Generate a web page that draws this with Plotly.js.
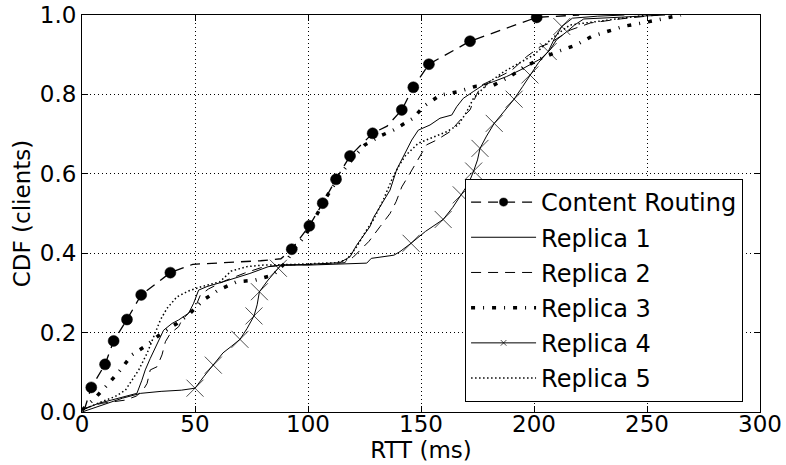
<!DOCTYPE html>
<html>
<head>
<meta charset="utf-8">
<script src="https://cdn.plot.ly/plotly-3.0.1.min.js"></script>
<style>html,body{margin:0;padding:0;background:#fff;}#chart{width:786px;height:465px;}</style>
</head>
<body>
<div id="chart"></div>
<script>
// Content Routing (dashed line with circle markers)
const crX = [1, 4.1, 10.2, 14.0, 19.9, 26.2, 39.1, 49, 79, 88, 92.8, 100.6, 106.5, 112.4, 118.6, 128.6, 135, 141.5, 146.6, 153.5, 171.7, 201.2, 220];
const crY = [0.005, 0.062, 0.12, 0.179, 0.233, 0.295, 0.351, 0.372, 0.381, 0.386, 0.41, 0.469, 0.526, 0.586, 0.645, 0.702, 0.72, 0.761, 0.818, 0.876, 0.934, 0.994, 1.0];
// indices of crX/crY that carry a circle marker
const crMarkerIdx = [1, 2, 3, 4, 5, 6, 10, 11, 12, 13, 14, 15, 17, 18, 19, 20, 21];

const r1X = [0, 4, 7.4, 13, 19.2, 24.3, 26.5, 28, 30.2, 31.7, 33.9, 35.4, 36.1, 39.8, 42.8, 47.2, 49.4, 51.6, 55.3, 62.5, 74.3, 82.4, 87.6, 100, 114, 118.6, 121.5, 124, 127.4, 129, 131.9, 136.3, 139.2, 143.7, 145.9, 148.8, 154, 158.4, 163.6, 165.8, 168.7, 173.1, 177.6, 182, 187.9, 193.8, 198.2, 203.4, 207.1, 209.9, 214.5, 218, 222, 240, 258];
const r1Y = [0.005, 0.015, 0.022, 0.03, 0.04, 0.047, 0.08, 0.106, 0.135, 0.152, 0.177, 0.194, 0.206, 0.223, 0.232, 0.249, 0.274, 0.307, 0.316, 0.328, 0.349, 0.366, 0.37, 0.372, 0.376, 0.391, 0.42, 0.44, 0.467, 0.49, 0.517, 0.559, 0.61, 0.66, 0.685, 0.71, 0.723, 0.74, 0.748, 0.769, 0.79, 0.807, 0.824, 0.832, 0.845, 0.861, 0.874, 0.891, 0.912, 0.937, 0.958, 0.975, 0.99, 0.995, 1.0];

const r2X = [0, 3, 8.8, 14.7, 19.2, 24, 27, 28.8, 30.2, 33.2, 35.4, 36.9, 39.1, 42.8, 44.2, 47.2, 50.9, 52.4, 56, 63, 72, 80, 90, 105, 116, 120, 123, 127, 131.9, 136.3, 139, 141.5, 145, 149.6, 152.5, 156.9, 162.8, 168.7, 171.7, 174.6, 177, 183, 190, 196.7, 202.7, 207, 216, 225, 238, 255];
const r2Y = [0.005, 0.013, 0.022, 0.026, 0.03, 0.04, 0.055, 0.072, 0.106, 0.114, 0.144, 0.177, 0.198, 0.215, 0.232, 0.249, 0.274, 0.295, 0.31, 0.33, 0.35, 0.365, 0.37, 0.372, 0.376, 0.39, 0.408, 0.43, 0.467, 0.5, 0.53, 0.567, 0.6, 0.643, 0.673, 0.685, 0.706, 0.744, 0.761, 0.8, 0.824, 0.84, 0.86, 0.895, 0.92, 0.929, 0.962, 0.98, 0.99, 1.0];

const r3X = [0, 3, 5.9, 11.8, 17, 22.1, 28.8, 35.1, 42, 47.9, 53.7, 60.3, 68.4, 76.5, 84.6, 89.8, 94, 99.4, 104, 108, 114.9, 120, 125.2, 131.9, 137.7, 146.6, 151, 158.4, 166.5, 173.9, 182, 189.4, 196, 203.4, 210, 218.5, 225.5, 232, 240, 249, 256, 265];
const r3Y = [0.005, 0.02, 0.036, 0.072, 0.106, 0.144, 0.169, 0.198, 0.223, 0.249, 0.282, 0.307, 0.328, 0.332, 0.345, 0.375, 0.41, 0.45, 0.5, 0.54, 0.603, 0.64, 0.673, 0.695, 0.71, 0.74, 0.769, 0.798, 0.807, 0.82, 0.823, 0.845, 0.87, 0.891, 0.907, 0.924, 0.946, 0.958, 0.972, 0.981, 0.99, 1.0];

const r4X = [0, 5, 10, 18, 26, 35, 44, 50, 54, 58.1, 62.4, 66, 69.9, 73, 76.1, 77.5, 78.5, 82, 86.9, 88, 100, 115, 126, 128, 138, 140.7, 145.6, 152, 159.8, 164, 167.8, 171, 173.3, 175, 176.1, 179, 182.4, 187, 191.2, 195, 198.2, 202, 206.3, 209, 212.3, 217, 228, 240];
const r4Y = [0, 0.01, 0.02, 0.035, 0.047, 0.052, 0.055, 0.06, 0.09, 0.118, 0.149, 0.165, 0.183, 0.21, 0.242, 0.27, 0.303, 0.33, 0.362, 0.37, 0.37, 0.372, 0.375, 0.387, 0.395, 0.404, 0.425, 0.455, 0.485, 0.515, 0.547, 0.575, 0.607, 0.635, 0.664, 0.695, 0.727, 0.76, 0.788, 0.82, 0.849, 0.88, 0.908, 0.94, 0.971, 0.992, 0.997, 1.0];
// indices of r4X/r4Y that carry an X marker
const r4MarkerIdx = [7, 9, 12, 14, 16, 18, 26, 28, 30, 32, 34, 36, 38, 40, 42, 44];

const r5X = [0, 4, 8.8, 14.7, 19.2, 22.1, 25.1, 28.8, 31.7, 34.7, 37.6, 42, 47.2, 53.1, 61, 66, 72.9, 80.2, 95, 112, 117, 121.5, 125, 128.9, 133.3, 137, 140, 143, 148.8, 154, 161.4, 166.5, 170.2, 173.2, 180, 186.4, 193, 200, 205.6, 211, 216, 226, 238, 250];
const r5Y = [0.005, 0.015, 0.026, 0.039, 0.055, 0.08, 0.106, 0.148, 0.19, 0.232, 0.261, 0.29, 0.305, 0.316, 0.328, 0.355, 0.366, 0.37, 0.372, 0.376, 0.383, 0.416, 0.45, 0.484, 0.534, 0.584, 0.618, 0.645, 0.677, 0.689, 0.706, 0.723, 0.756, 0.79, 0.83, 0.856, 0.878, 0.9, 0.929, 0.955, 0.975, 0.983, 0.991, 1.0];

const seriesNames = ['Content Routing', 'Replica 1', 'Replica 2', 'Replica 3', 'Replica 4', 'Replica 5'];
const xTicks = [0, 50, 100, 150, 200, 250, 300];
const yTicks = [0.0, 0.2, 0.4, 0.6, 0.8, 1.0];

function sizes(n, idx, s) { const a = new Array(n).fill(0); idx.forEach(i => a[i] = s); return a; }

const FONT = 'DejaVu Sans, Bitstream Vera Sans, sans-serif';
const FS = 23;
const traces = [
  {x: crX, y: crY, name: seriesNames[0], legendgroup: 'g0', mode: 'lines+markers',
   line: {color: '#000', width: 1.3, dash: '10px,7px'},
   marker: {symbol: 'circle', color: '#000', opacity: 1, size: sizes(crX.length, crMarkerIdx, 11), line: {color: '#000', width: 0.5}}},
  {x: r1X, y: r1Y, name: seriesNames[1], legendgroup: 'g1', mode: 'lines',
   line: {color: '#000', width: 1}},
  {x: r2X, y: r2Y, name: seriesNames[2], legendgroup: 'g2', mode: 'lines',
   line: {color: '#000', width: 1, dash: '10px,7px'}},
  {x: r3X, y: r3Y, name: seriesNames[3], legendgroup: 'g3', mode: 'lines',
   line: {color: '#000', width: 3.5, dash: '4px,8px,1px,8px'}},
  {x: r4X, y: r4Y, name: seriesNames[4], legendgroup: 'g4', mode: 'lines+markers',
   line: {color: '#000', width: 1},
   marker: {symbol: 'x-thin-open', color: '#000', size: sizes(r4X.length, r4MarkerIdx, 17), line: {color: '#000', width: 1}}},
  {x: r5X, y: r5Y, name: seriesNames[5], legendgroup: 'g5', mode: 'lines',
   line: {color: '#000', width: 1.5, dash: '1.5px,2.5px'}}
];

const axisCommon = {
  showline: true, linecolor: '#000', linewidth: 1, mirror: 'allticks',
  ticks: 'inside', ticklen: 6, tickwidth: 1, tickcolor: '#000',
  showgrid: true, gridcolor: '#000', griddash: '1px,3px', gridwidth: 1,
  zeroline: false, tickfont: {family: FONT, size: FS, color: '#000'}
};

const layout = {
  width: 786, height: 465,
  margin: {l: 82, r: 26, t: 15, b: 53},
  paper_bgcolor: '#fff', plot_bgcolor: '#fff',
  font: {family: FONT, color: '#000'},
  xaxis: Object.assign({}, axisCommon, {
    range: [0, 300], tickvals: xTicks, ticktext: xTicks.map(String),
    ticklabelstandoff: -9,
    title: {text: 'RTT (ms)', font: {family: FONT, size: FS, color: '#000'}, standoff: 6}
  }),
  yaxis: Object.assign({}, axisCommon, {
    range: [0, 1], tickvals: yTicks, ticktext: yTicks.map(v => v.toFixed(1)),
    title: {text: 'CDF (clients)', font: {family: FONT, size: FS, color: '#000'}, standoff: 2}
  }),
  showlegend: true,
  legend: {
    x: 0.565, y: 0.587, xanchor: 'left', yanchor: 'top',
    bgcolor: '#fff', bordercolor: '#000', borderwidth: 1,
    font: {family: FONT, size: 24, color: '#000'},
    traceorder: 'grouped', tracegroupgap: 1, itemwidth: 65
  }
};

Plotly.newPlot('chart', traces, layout, {staticPlot: true, displayModeBar: false});
</script>
</body>
</html>
